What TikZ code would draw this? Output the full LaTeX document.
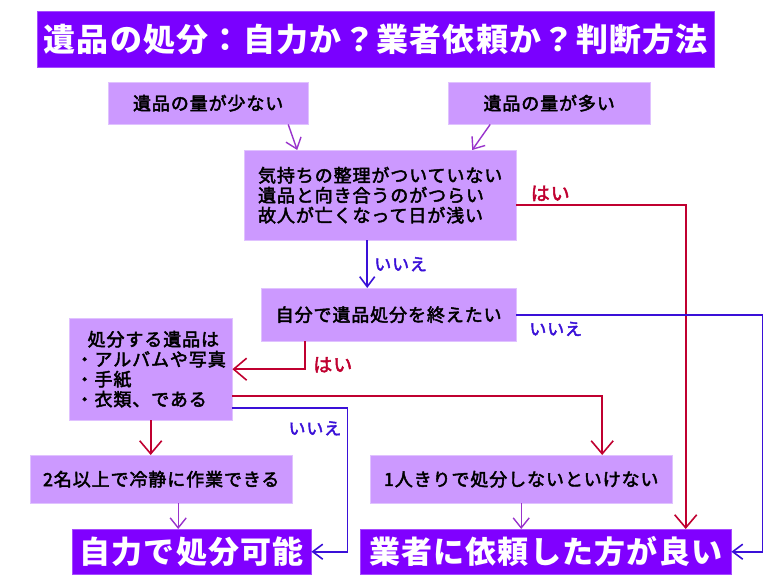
\documentclass[tikz,border=0pt]{standalone}
\usepackage{fontspec}
\setmainfont{Noto Sans CJK JP}
\newfontfamily\boxfont{Noto Sans CJK JP}[FakeBold=2.5,LetterSpace=5]
\newfontfamily\headfont{Noto Sans CJK JP}[LetterSpace=4]
\usetikzlibrary{positioning,arrows.meta}

\definecolor{boxfill}{HTML}{CC99FF}
\definecolor{endfill}{HTML}{8000FF}
\definecolor{yesred}{HTML}{C00030}
\definecolor{noblue}{HTML}{3A10D8}
\definecolor{flowpurple}{HTML}{9933CC}

\begin{document}
\begin{tikzpicture}[x=1pt,y=-1pt,
  box/.style={fill=boxfill,draw=boxfill!60!white,anchor=north west,inner sep=0pt,
    align=left,font=\boxfont\fontsize{18}{20}\selectfont},
  endbox/.style={fill=endfill,draw=endfill!70!white,anchor=north west,inner sep=0pt,
    text=white,font=\headfont\bfseries\fontsize{31}{33}\selectfont},
  yes/.style={draw=yesred,line width=1.6pt,-{Straight Barb[length=13pt,width=22pt]}},
  no/.style={draw=noblue,line width=1.6pt,-{Straight Barb[length=10pt,width=15pt]}},
  flow/.style={draw=flowpurple,line width=1.4pt,-{Straight Barb[length=10pt,width=16pt]}},
  yeslabel/.style={text=yesred,font=\boxfont\fontsize{19}{19}\selectfont},
  nolabel/.style={text=noblue,font=\boxfont\fontsize{17}{17}\selectfont}]
  \useasboundingbox[fill=white] (0,0) rectangle (784,588);

  \node[endbox,minimum width=677pt,minimum height=56pt,fill=endfill!95!blue] (title) at (37,11)
    {\fontsize{32}{34}\selectfont 遺品の処分：自力か？業者依頼か？判断方法};

  \node[box,minimum width=200pt,minimum height=42pt,align=center] (few) at (108,82) {遺品の量が少ない};
  \node[box,minimum width=202pt,minimum height=42pt,align=center] (many) at (448,82) {遺品の量が多い};
  \node[box,minimum width=272pt,minimum height=90pt] (q1) at (244,150)
    {気持ちの整理がついていない\\遺品と向き合うのがつらい\\故人が亡くなって日が浅い};
  \node[box,minimum width=255pt,minimum height=53pt] (jibun) at (261,288) {自分で遺品処分を終えたい};
  \node[box,minimum width=163pt,minimum height=102pt] (shobun) at (69,318)
    {\hspace{12pt}処分する遺品は\\・アルバムや写真\\・手紙\\・衣類、である};
  \node[box,minimum width=262pt,minimum height=48pt] (nimei) at (30,455) {2名以上で冷静に作業できる};
  \node[box,minimum width=302pt,minimum height=48pt] (hitori) at (370,455) {1人きりで処分しないといけない};
  \node[endbox,minimum width=239pt,minimum height=45pt] (jiriki) at (72,529) {自力で処分可能};
  \node[endbox,minimum width=371pt,minimum height=45pt] (gyousha) at (360,529) {業者に依頼した方が良い};

  % amount of items
  \draw[flow] ([xshift=80pt]few.south) -- ([xshift=-83pt]q1.north);
  \draw[flow] ([xshift=-59pt]many.south) -- ([xshift=92pt]q1.north);

  % feelings
  \draw[yes] ([yshift=-10pt]q1.east) -| ([xshift=140pt]gyousha.north)
    node[yeslabel,pos=0.1,above] {はい};
  \draw[no] ([xshift=-13pt]q1.south) -- ([xshift=-13pt]q1.south |- jibun.north)
    node[nolabel,midway,right=3pt] {いいえ};

  % finish by oneself
  \draw[no] (jibun.east) -- node[nolabel,pos=0.16,below=3pt] {いいえ} ++(246,0) |- (gyousha.east);
  \draw[yes] ([xshift=-83.5pt]jibun.south) |- (shobun.east)
    node[yeslabel,pos=0.42,right=4pt] {はい};

  % items to dispose
  \draw[yes] ([yshift=-27pt]shobun.east) -| ([xshift=81pt]hitori.north);
  \draw[no] ([yshift=-39pt]shobun.east) -- ++(115,0) |- (jiriki.east)
    node[nolabel,pos=0.07,left=2pt] {いいえ};
  \draw[yes] (shobun.south) -- (shobun.south |- nimei.north);

  % results
  \draw[flow] ([xshift=17pt]nimei.south) -- ([xshift=17pt]nimei.south |- jiriki.north);
  \draw[flow] (hitori.south) -- (hitori.south |- gyousha.north);
\end{tikzpicture}
\end{document}
